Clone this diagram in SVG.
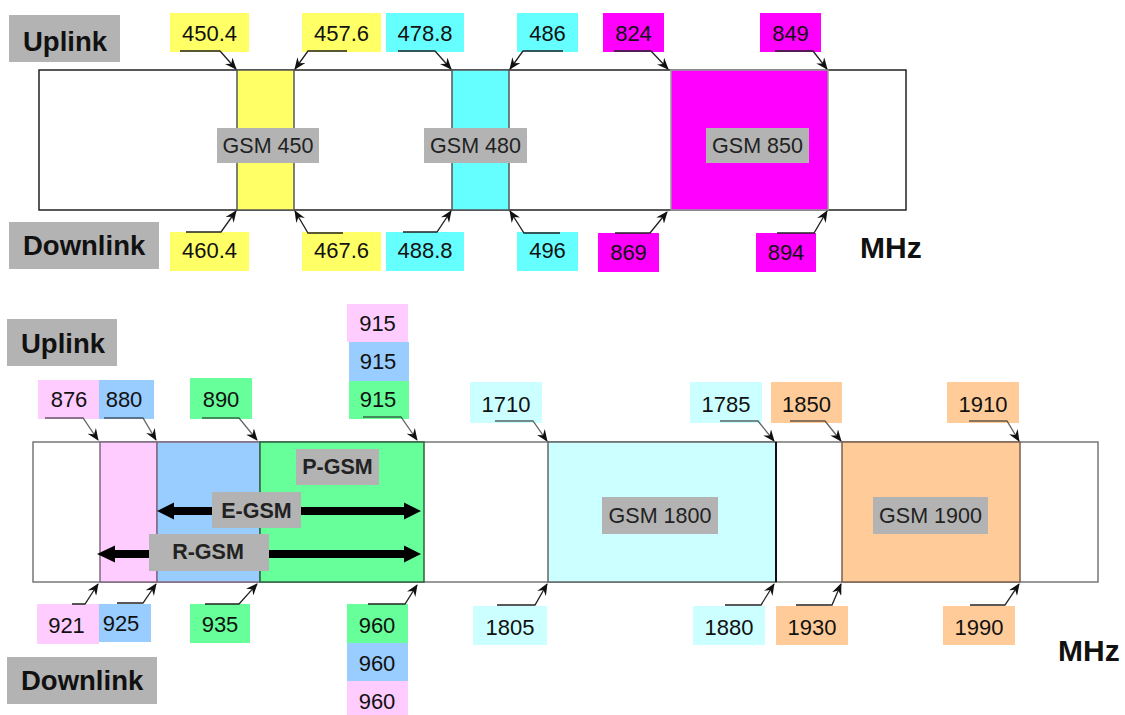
<svg xmlns="http://www.w3.org/2000/svg" width="1125" height="715" viewBox="0 0 1125 715">
<defs>
<marker id="ah" viewBox="0 0 12 10" refX="11" refY="5" markerWidth="12" markerHeight="10" markerUnits="userSpaceOnUse" orient="auto">
<path d="M0,0 L12,5 L0,10 L4,5 Z" fill="#111"/>
</marker>
<style>
.hd{fill:#b3b3b3}
.hdt{font-family:"Liberation Sans",Arial,sans-serif;font-weight:bold;font-size:27.5px;fill:#111}
.num{font-family:"Liberation Sans",Arial,sans-serif;font-size:22px;fill:#111;text-anchor:middle}
.gsm{font-family:"Liberation Sans",Arial,sans-serif;font-size:21.5px;fill:#222;text-anchor:middle}
.gsmb{font-family:"Liberation Sans",Arial,sans-serif;font-size:21.5px;font-weight:bold;fill:#222;text-anchor:middle}
.mhz{font-family:"Liberation Sans",Arial,sans-serif;font-size:30px;font-weight:bold;fill:#111}
.outer{fill:#fff;stroke:#222;stroke-width:1.5}
.outer2{fill:#fff;stroke:#777;stroke-width:1.5}
.band{stroke:#555;stroke-width:1.5}
.ld{fill:none;stroke:#222;stroke-width:1.3;marker-end:url(#ah)}
.y{fill:#ffff66}.c{fill:#66ffff}.m{fill:#ff00ff}.p{fill:#ffccff}.b{fill:#99ccff}.g{fill:#66ff99}.lc{fill:#ccffff}.o{fill:#ffcc99}
</style>
</defs>

<!-- ===== TOP DIAGRAM ===== -->
<g id="top-frame"><rect class="outer" x="39" y="70" width="867" height="140"/></g>
<g id="band-gsm450"><rect class="band y" x="237" y="70" width="57" height="140"/></g>
<g id="band-gsm480"><rect class="band c" x="452" y="70" width="57" height="140"/></g>
<g id="band-gsm850"><rect class="band m" x="671" y="70" width="157" height="140" style="stroke:#999"/></g>

<g id="uplink-top"><rect class="hd" x="9" y="15" width="111" height="47"/><text class="hdt" x="23" y="51">Uplink</text></g>
<g id="downlink-top"><rect class="hd" x="9" y="222" width="150" height="47"/><text class="hdt" x="23" y="255">Downlink</text></g>

<g id="lbl-gsm450"><rect class="hd" x="217" y="128" width="102" height="35"/><text class="gsm" x="268" y="153">GSM 450</text></g>
<g id="lbl-gsm480"><rect class="hd" x="424" y="128" width="103" height="35"/><text class="gsm" x="475.5" y="153">GSM 480</text></g>
<g id="lbl-gsm850"><rect class="hd" x="706" y="128" width="103" height="35"/><text class="gsm" x="757.5" y="153">GSM 850</text></g>

<g id="u4504"><rect class="y" x="170" y="13" width="79" height="39"/><text class="num" x="209.5" y="41">450.4</text></g>
<g id="u4576"><rect class="y" x="302" y="13" width="79" height="39"/><text class="num" x="341.5" y="41">457.6</text></g>
<g id="u4788"><rect class="c" x="386" y="13" width="78" height="39"/><text class="num" x="425" y="41">478.8</text></g>
<g id="u486"><rect class="c" x="517" y="13" width="61" height="39"/><text class="num" x="547.5" y="41">486</text></g>
<g id="u824"><rect class="m" x="603" y="13" width="61" height="39"/><text class="num" x="633.5" y="41">824</text></g>
<g id="u849"><rect class="m" x="760" y="13" width="61" height="39"/><text class="num" x="790.5" y="41">849</text></g>

<g id="d4604"><rect class="y" x="170" y="232" width="79" height="39"/><text class="num" x="209.5" y="258">460.4</text></g>
<g id="d4676"><rect class="y" x="302" y="232" width="79" height="39"/><text class="num" x="341.5" y="258">467.6</text></g>
<g id="d4888"><rect class="c" x="386" y="232" width="78" height="39"/><text class="num" x="425" y="258">488.8</text></g>
<g id="d496"><rect class="c" x="517" y="232" width="61" height="39"/><text class="num" x="547.5" y="258">496</text></g>
<g id="d869"><rect class="m" x="598" y="233" width="61" height="39"/><text class="num" x="628.5" y="260">869</text></g>
<g id="d894"><rect class="m" x="756" y="233" width="60" height="39"/><text class="num" x="786" y="260">894</text></g>

<g id="mhz-top"><text class="mhz" x="860" y="258">MHz</text></g>

<!-- ===== BOTTOM DIAGRAM ===== -->
<g id="bottom-frame"><rect class="outer2" x="33" y="442" width="1065" height="140"/></g>
<g id="band-rgsm"><rect class="band p" x="100" y="442" width="57" height="140" style="stroke:#806a80"/></g>
<g id="band-egsm"><rect class="band b" x="157" y="442" width="103" height="140" style="stroke:#806a80"/></g>
<g id="band-pgsm"><rect class="band g" x="260" y="442" width="164" height="140" style="stroke:#2f5f3f"/></g>
<g id="band-gsm1800"><rect class="band lc" x="548" y="442" width="228" height="140" style="stroke:#666"/><line x1="776" y1="442" x2="776" y2="582" stroke="#111" stroke-width="2"/></g>
<g id="band-gsm1900"><rect class="band o" x="842" y="442" width="178" height="140" style="stroke:#7a6050"/></g>

<g id="uplink-bottom"><rect class="hd" x="7" y="319" width="110" height="47"/><text class="hdt" x="21" y="353">Uplink</text></g>
<g id="downlink-bottom"><rect class="hd" x="7" y="657" width="150" height="47"/><text class="hdt" x="21" y="690">Downlink</text></g>

<g id="u876"><rect class="p" x="38" y="380" width="61" height="39"/><text class="num" x="69" y="407">876</text></g>
<g id="u880"><rect class="b" x="99" y="380" width="55" height="39"/><text class="num" x="124" y="407">880</text></g>
<g id="u890"><rect class="g" x="190" y="378" width="62" height="41"/><text class="num" x="221" y="407">890</text></g>
<g id="u915p"><rect class="p" x="347" y="304" width="61" height="38"/><text class="num" x="377.5" y="331">915</text></g>
<g id="u915b"><rect class="b" x="349" y="342" width="60" height="39"/><text class="num" x="378" y="368.5">915</text></g>
<g id="u915g"><rect class="g" x="349" y="381" width="60" height="38"/><text class="num" x="378" y="407">915</text></g>
<g id="u1710"><rect class="lc" x="470" y="382" width="72" height="41"/><text class="num" x="506" y="412">1710</text></g>
<g id="u1785"><rect class="lc" x="690" y="382" width="72" height="41"/><text class="num" x="726" y="412">1785</text></g>
<g id="u1850"><rect class="o" x="771" y="382" width="71" height="41"/><text class="num" x="806.5" y="412">1850</text></g>
<g id="u1910"><rect class="o" x="947" y="382" width="72" height="41"/><text class="num" x="983" y="412">1910</text></g>

<g id="d921"><rect class="p" x="37" y="604" width="62" height="40"/><text class="num" x="66.5" y="633">921</text></g>
<g id="d925"><rect class="b" x="99" y="604" width="52" height="38"/><text class="num" x="121" y="631">925</text></g>
<g id="d935"><rect class="g" x="190" y="604" width="60" height="39"/><text class="num" x="220" y="632">935</text></g>
<g id="d960g"><rect class="g" x="347" y="604" width="61" height="39"/><text class="num" x="377" y="633">960</text></g>
<g id="d960b"><rect class="b" x="347" y="643" width="61" height="38"/><text class="num" x="377" y="671">960</text></g>
<g id="d960p"><rect class="p" x="347" y="681" width="61" height="34"/><text class="num" x="377" y="709">960</text></g>
<g id="d1805"><rect class="lc" x="473" y="606" width="74" height="39"/><text class="num" x="510" y="635">1805</text></g>
<g id="d1880"><rect class="lc" x="693" y="606" width="72" height="39"/><text class="num" x="729" y="635">1880</text></g>
<g id="d1930"><rect class="o" x="776" y="606" width="72" height="39"/><text class="num" x="812" y="635">1930</text></g>
<g id="d1990"><rect class="o" x="943" y="606" width="72" height="39"/><text class="num" x="979" y="635">1990</text></g>

<g id="lbl-gsm1800"><rect class="hd" x="602" y="497" width="116" height="37"/><text class="gsm" x="660" y="523">GSM 1800</text></g>
<g id="lbl-gsm1900"><rect class="hd" x="873" y="497" width="115" height="37"/><text class="gsm" x="930.5" y="523">GSM 1900</text></g>

<g id="mhz-bottom"><text class="mhz" x="1058" y="661">MHz</text></g>

<!-- ===== CONNECTORS ===== -->
<g id="connectors">
<path d="M157,511 L174,502.5 L174,507 L404,507 L404,502.5 L421,511 L404,519.5 L404,515 L174,515 L174,519.5 Z" fill="#000"/>
<path d="M97,554 L115,545.5 L115,550 L404,550 L404,545.5 L421,554 L404,562.5 L404,558 L115,558 L115,562.5 Z" fill="#000"/>
<path class="ld" d="M180,51 H220 L236,69"/>
<path class="ld" d="M347,51 H308 L295,69"/>
<path class="ld" d="M398,51 H435 L451,69"/>
<path class="ld" d="M563,51 H523 L510,69"/>
<path class="ld" d="M614,51 H651 L668,69"/>
<path class="ld" d="M775,51 H813 L827,69"/>
<path class="ld" d="M186,232 H221 L236,211"/>
<path class="ld" d="M343,233 H308 L295,211"/>
<path class="ld" d="M403,232 H437 L451,211"/>
<path class="ld" d="M560,233 H524 L510,211"/>
<path class="ld" d="M615,233 H650 L667,212"/>
<path class="ld" d="M777,233 H814 L827,211"/>
<path class="ld" d="M45,418 H83 L98,440" stroke-opacity="0.7"/>
<path class="ld" d="M104,418 H143 L156,440" stroke-opacity="0.7"/>
<path class="ld" d="M202,418 H239 L257,440" stroke-opacity="0.7"/>
<path class="ld" d="M363,417 H401 L417,440" stroke-opacity="0.7"/>
<path class="ld" d="M495,421 H533 L547,441" stroke-opacity="0.7"/>
<path class="ld" d="M720,421 H758 L774,441" stroke-opacity="0.7"/>
<path class="ld" d="M790,421 H825 L841,441" stroke-opacity="0.7"/>
<path class="ld" d="M969,421 H1007 L1019,441" stroke-opacity="0.7"/>
<path class="ld" d="M72,604 H85 L98,584"/>
<path class="ld" d="M117,603 H143 L156,584"/>
<path class="ld" d="M205,604 H239 L257,584"/>
<path class="ld" d="M368,604 H405 L417,585"/>
<path class="ld" d="M497,605 H535 L547,584"/>
<path class="ld" d="M725,605 H761 L774,584"/>
<path class="ld" d="M796,605 H832 L841,584"/>
<path class="ld" d="M970,605 H1005 L1019,584"/>
</g>

<g id="lbl-pgsm"><rect class="hd" x="296" y="449" width="83" height="36"/><text class="gsmb" x="337.5" y="474">P-GSM</text></g>
<g id="lbl-egsm"><rect class="hd" x="212" y="492" width="89" height="36"/><text class="gsmb" x="256.5" y="518">E-GSM</text></g>
<g id="lbl-rgsm"><rect class="hd" x="149" y="534" width="120" height="37"/><text class="gsmb" x="208" y="559">R-GSM</text></g>
</svg>
